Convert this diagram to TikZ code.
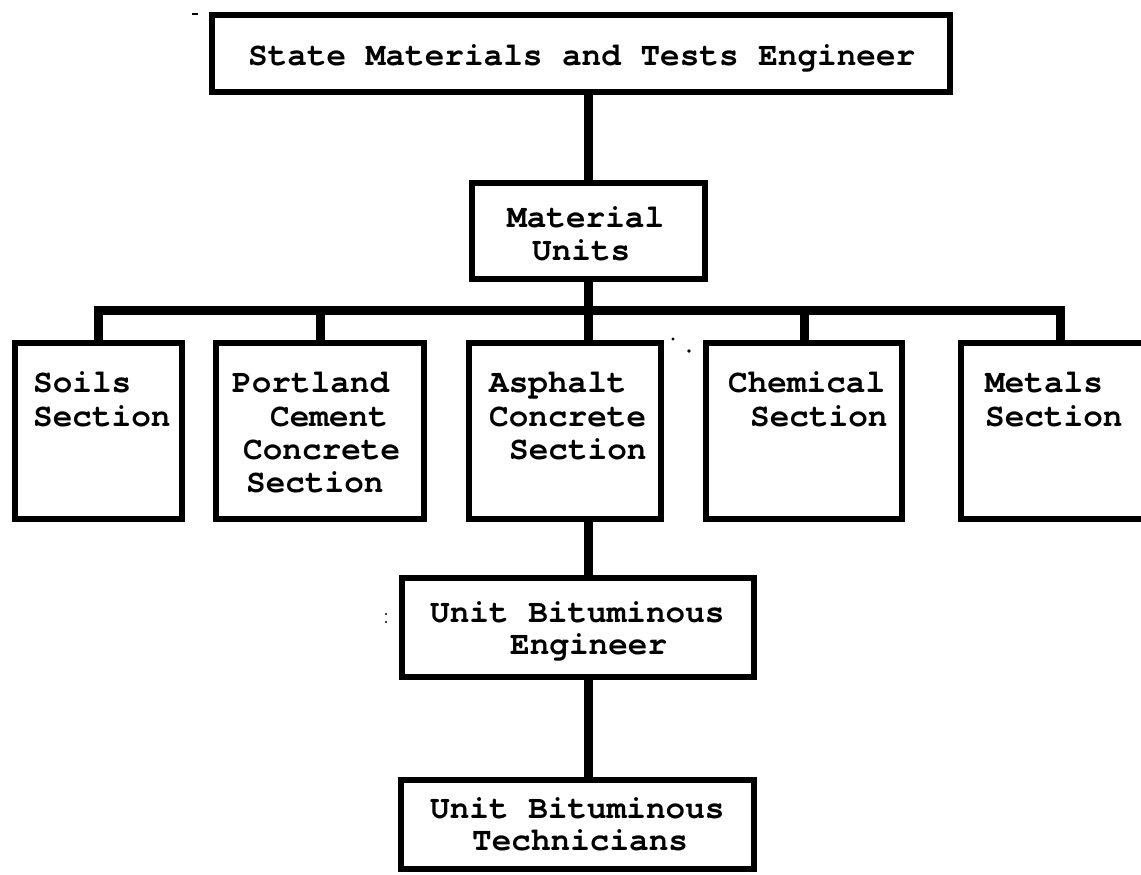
\documentclass[tikz,border=0pt]{standalone}
\usepackage{fontspec}
\setmonofont{TeX Gyre Cursor}
\begin{document}
\begin{tikzpicture}[x=1pt,y=-1pt,
  box/.style={draw=black,line width=6pt,inner sep=0pt,fill=none},
  conn/.style={draw=black,line width=9pt},
  lbl/.style={anchor=base west,inner sep=0pt,font=\ttfamily\bfseries\fontsize{32.7}{33}\selectfont}]
\useasboundingbox[fill=white] (0,0) rectangle (1141,875);
\clip (0,0) rectangle (1141,875);

% boxes of the organisation chart
\node[box,minimum width=738pt,minimum height=77pt] (top) at (581,53.5) {};
\node[box,minimum width=233pt,minimum height=96pt] (matu) at (588.5,231) {};
\node[box,minimum width=167pt,minimum height=176pt] (soils) at (98.5,431) {};
\node[box,minimum width=208pt,minimum height=176pt] (pcc) at (320,431) {};
\node[box,minimum width=192pt,minimum height=176pt] (asph) at (565,431) {};
\node[box,minimum width=196pt,minimum height=176pt] (chem) at (804,431) {};
\node[box,minimum width=198pt,minimum height=176pt] (metal) at (1060,431) {};
\node[box,minimum width=352pt,minimum height=99pt] (eng) at (578,627.5) {};
\node[box,minimum width=353pt,minimum height=89pt] (tech) at (577.5,824.5) {};

% connectors
\coordinate (bar) at (0,310);
\draw[conn] (top.south -| matu) -- (matu.north);
\draw[conn] (matu.south) -- (matu.south |- asph.north);
\draw[conn,line join=miter] (soils.north) -- (soils.north |- bar) -- (metal.north |- bar) -- (metal.north);
\draw[conn] (pcc.north) -- (pcc.north |- bar);
\draw[conn] (chem.north) -- (chem.north |- bar);
\draw[conn] (asph.south -| matu) -- (eng.north -| matu);
\draw[conn] (eng.south -| matu) -- (tech.north -| matu);

% labels (placed on their baselines)
\node[lbl] (tA) at (248,66) {State Materials and Tests Engineer};
\node[lbl] (mA) at (507,227) {Material};
\node[lbl] (mB) at (532,260) {Units};
\node[lbl] (sA) at (33,392) {Soils};
\node[lbl] (sB) at (33,426) {Section};
\node[lbl] (pA) at (232,392) {Portland};
\node[lbl] (pB) at (270,426) {Cement};
\node[lbl] (pC) at (243,459) {Concrete};
\node[lbl] (pD) at (246,492) {Section};
\node[lbl] (aA) at (489,392) {Asphalt};
\node[lbl] (aB) at (489,426) {Concrete};
\node[lbl] (aC) at (509,459) {Section};
\node[lbl] (cA) at (728,392) {Chemical};
\node[lbl] (cB) at (750,426) {Section};
\node[lbl] (xA) at (985,392) {Metals};
\node[lbl] (xB) at (985,426) {Section};
\node[lbl] (eA) at (430,622) {Unit Bituminous};
\node[lbl] (eB) at (510,654) {Engineer};
\node[lbl] (hA) at (430,818) {Unit Bituminous};
\node[lbl] (hB) at (472,850) {Technicians};

% small specks
\fill (192,13) rectangle (198,15.5);
\fill (673,339) circle (1.6pt);
\fill (689,351) circle (1.8pt);
\fill (386,614) circle (1.2pt);
\fill (386,622) circle (1.2pt);
\end{tikzpicture}
\end{document}
